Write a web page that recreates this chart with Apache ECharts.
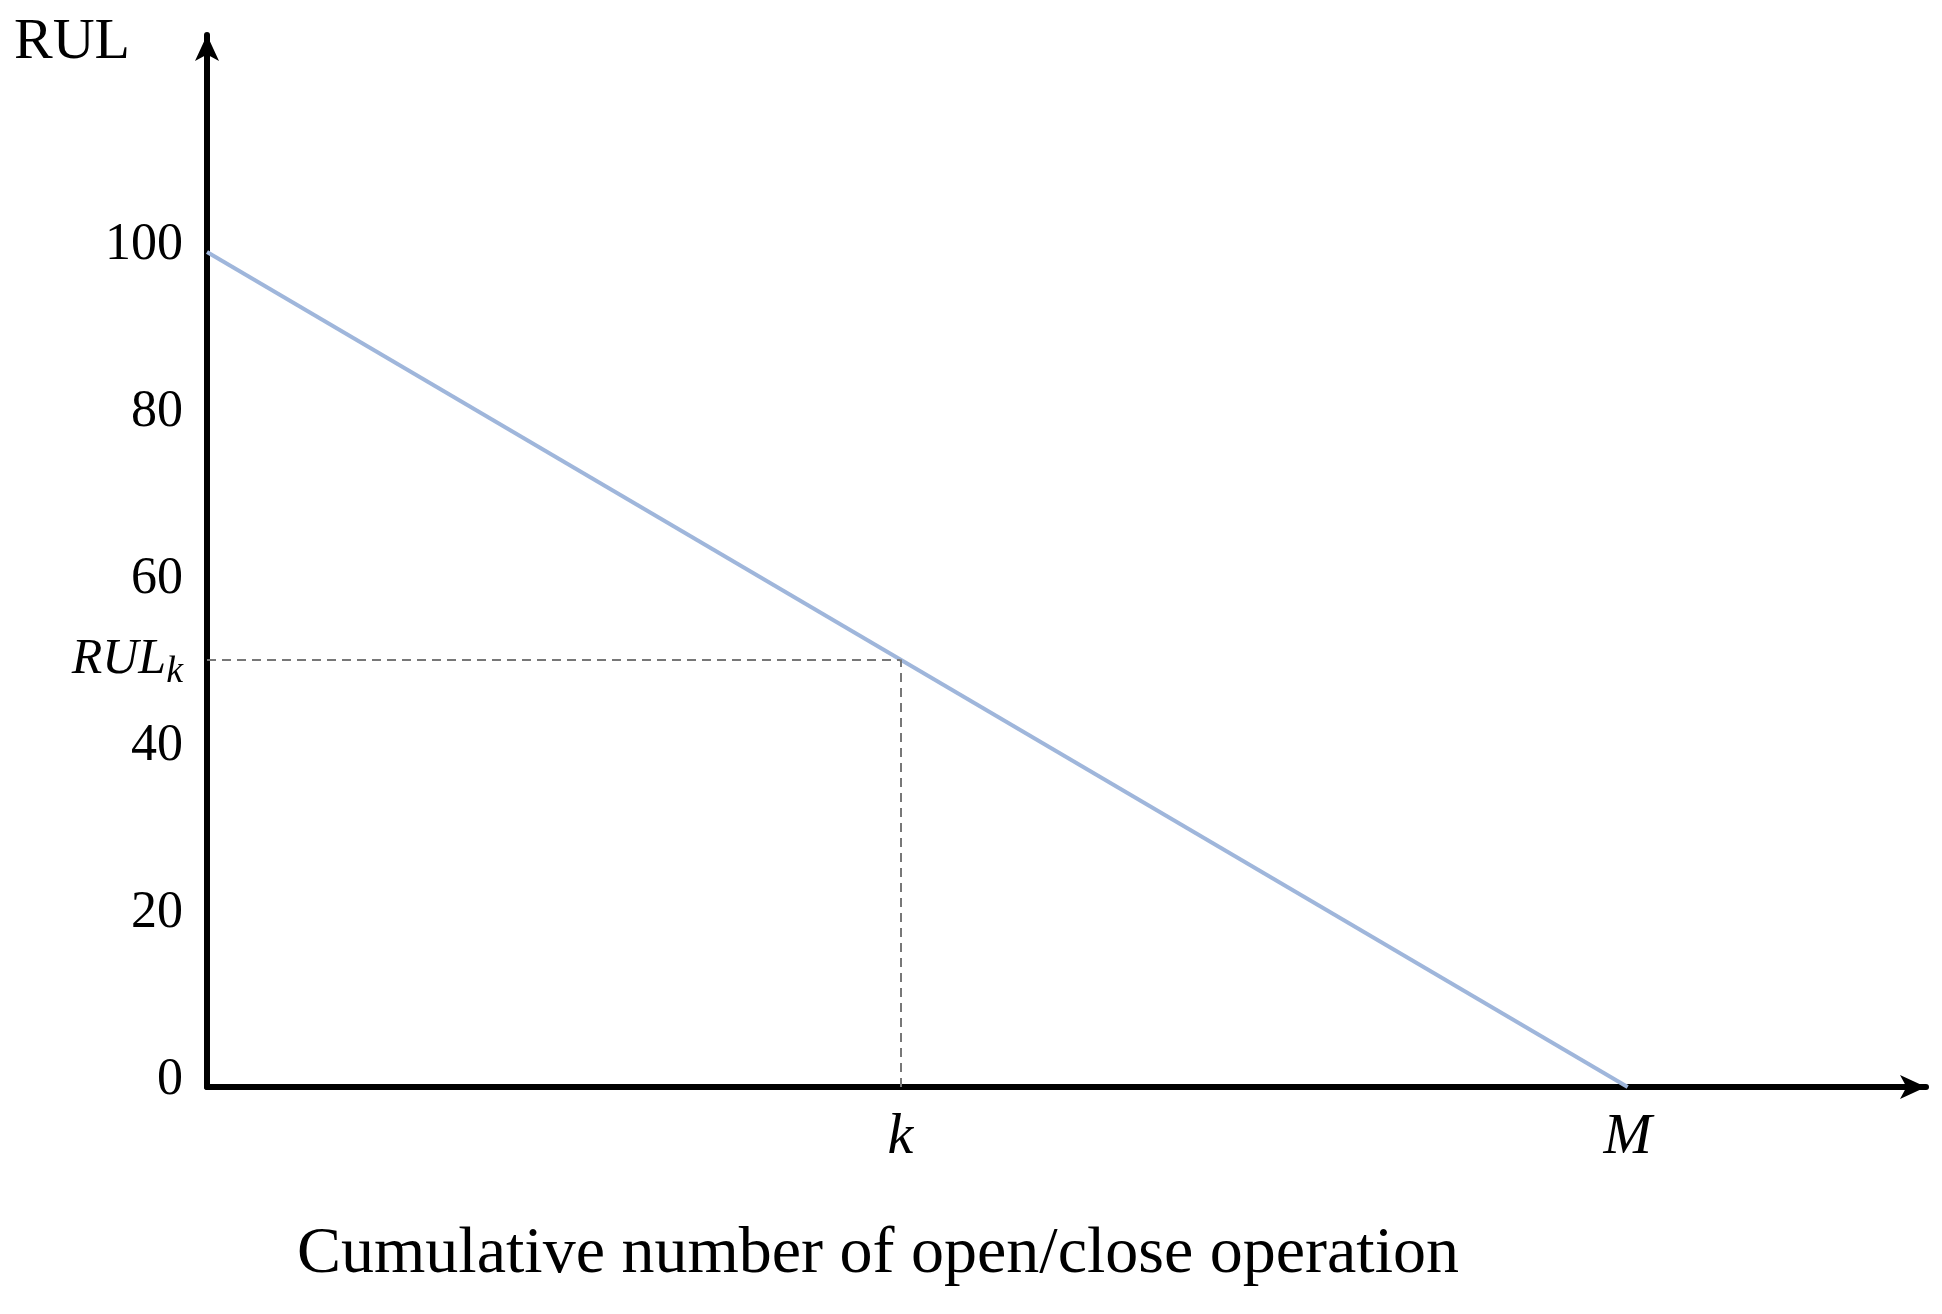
<!DOCTYPE html>
<html><head><meta charset="utf-8">
<script src="https://cdn.jsdelivr.net/npm/echarts@6/dist/echarts.min.js"></script>
<style>html,body{margin:0;background:#fff}#c{width:1942px;height:1314px}</style>
</head><body><div id="c"></div>
<script>
// line from full life to end of life
const lifeX = [0, 100]
const lifeY = [100, 0]
const kX = 48.8
const rulK = 51.2
const yTicks = [0, 20, 40, rulK, 60, 80, 100]
const xTicks = [kX, 100]
const xTickNames = ['k', 'M']

const serif = 'Liberation Serif'
const chart = echarts.init(document.getElementById('c'))
chart.setOption({
	backgroundColor: '#fff',
	animation: false,
	grid: { left: 207, right: 16, top: 35, bottom: 227 },
	xAxis: {
		type: 'value', min: 0, max: 121,
		splitLine: { show: false },
		axisTick: { show: false },
		axisLine: { lineStyle: { color: '#000', width: 6 }, symbol: ['none', 'arrow'], symbolSize: [18, 26] },
		axisLabel: {
			customValues: xTicks, margin: 22,
			formatter: v => xTickNames[xTicks.indexOf(v)] || '',
			fontFamily: serif, fontStyle: 'italic', fontSize: 58, color: '#000'
		}
	},
	yAxis: {
		type: 'value', min: 0, max: 126,
		splitLine: { show: false },
		axisTick: { show: false },
		axisLine: { lineStyle: { color: '#000', width: 6 }, symbol: ['none', 'arrow'], symbolSize: [18, 26] },
		axisLabel: {
			customValues: yTicks, margin: 24,
			formatter: v => v === rulK ? '{i|RUL}{s|k}' : '{n|' + v + '}',
			rich: {
				n: { fontFamily: serif, fontSize: 52, color: '#000', padding: [0, 0, 14, 0] },
				i: { fontFamily: serif, fontStyle: 'italic', fontSize: 50, color: '#000' },
				s: { fontFamily: serif, fontStyle: 'italic', fontSize: 38, color: '#000', verticalAlign: 'bottom', padding: [24, 0, 0, 0] }
			}
		}
	},
	series: [{
		type: 'line', symbol: 'none',
		data: lifeX.map((x, i) => [x, lifeY[i]]),
		lineStyle: { color: '#9fb6db', width: 4 },
		markLine: {
			symbol: 'none', silent: true, label: { show: false },
			lineStyle: { color: '#777', type: [9, 6], width: 2 },
			data: [
				[{ coord: [0, rulK] }, { coord: [kX, rulK] }],
				[{ coord: [kX, 0] }, { coord: [kX, rulK] }]
			]
		}
	}],
	graphic: [
		{ type: 'text', left: 14, top: 14, style: { text: 'RUL', font: '58px "Liberation Serif"', fill: '#000' } },
		{ type: 'text', left: 297, top: 1222, style: { text: 'Cumulative number of open/close operation', font: '66px "Liberation Serif"', fill: '#000' } }
	]
})
</script></body></html>
